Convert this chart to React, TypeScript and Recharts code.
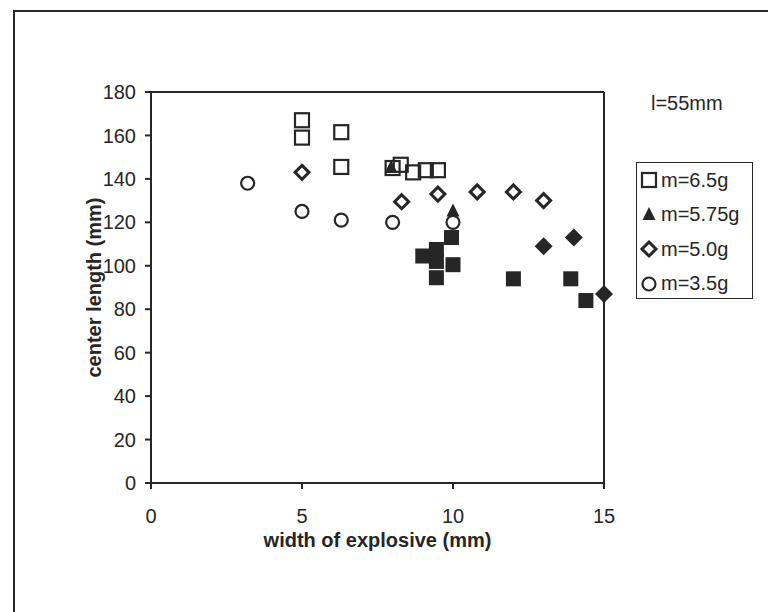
import { ScatterChart, Scatter, XAxis, YAxis, ReferenceLine, Label } from "recharts";

const xTicks = [0, 5, 10, 15];
const yTicks = [0, 20, 40, 60, 80, 100, 120, 140, 160, 180];

// m=6.5g (open squares)
const sq65X = [5, 5, 6.3, 6.3, 8.0, 8.27, 8.68, 9.1, 9.5];
const sq65Y = [167, 159, 161.5, 145.5, 145, 146.5, 143, 144, 144];
// m=5.75g (filled triangles)
const tri575X = [7.95, 10.0];
const tri575Y = [145, 125];
// m=5.0g (open diamonds)
const dia50X = [5, 8.3, 9.5, 10.8, 12.0, 13.0];
const dia50Y = [143, 129.5, 133, 134, 134, 130];
// m=3.5g (open circles)
const cir35X = [3.2, 5, 6.3, 8.0, 10.0];
const cir35Y = [138, 125, 121, 120, 120];
// extra series, not in legend
const fillSqX = [9.0, 9.45, 9.45, 9.95, 10.0, 9.45, 12.0, 13.9, 14.4];
const fillSqY = [104.5, 107.5, 102, 113, 100.5, 94.5, 94, 94, 84];
const fillDiaX = [13.0, 14.0, 15.0];
const fillDiaY = [109, 113, 87];

const legendNames = ["m=6.5g", "m=5.75g", "m=5.0g", "m=3.5g"];
const legendKinds = ["sq", "tri", "dia", "cir"];

const ink = "#262626";
const font = "'Liberation Sans', Arial, sans-serif";
const fs = 20;

const pts = (xs: number[], ys: number[]) => xs.map((x, i) => ({ x, y: ys[i] }));

const Marker = ({ kind, cx, cy }: { kind: string; cx: number; cy: number }) => {
  switch (kind) {
    case "sq":
      return <rect x={cx - 7} y={cy - 7} width={14} height={14} fill="none" stroke={ink} strokeWidth={2.2} />;
    case "fsq":
      return <rect x={cx - 7.5} y={cy - 7.5} width={15} height={15} fill={ink} />;
    case "tri":
      return <polygon points={`${cx},${cy - 8} ${cx + 6.5},${cy + 5} ${cx - 6.5},${cy + 5}`} fill={ink} />;
    case "dia":
      return (
        <polygon
          points={`${cx},${cy - 7} ${cx + 7},${cy} ${cx},${cy + 7} ${cx - 7},${cy}`}
          fill="#fff"
          stroke={ink}
          strokeWidth={3}
        />
      );
    case "fdia":
      return <polygon points={`${cx},${cy - 9} ${cx + 9},${cy} ${cx},${cy + 9} ${cx - 9},${cy}`} fill={ink} />;
    default:
      return <circle cx={cx} cy={cy} r={6.5} fill="#fff" stroke={ink} strokeWidth={2.2} />;
  }
};

const shapeOf = (kind: string) => (props: any) => <Marker kind={kind} cx={props.cx} cy={props.cy} />;

const LegendBox = () => (
  <div
    style={{
      position: "absolute",
      left: 636,
      top: 162,
      width: 117,
      height: 137,
      border: `1.5px solid ${ink}`,
      fontFamily: font,
      fontSize: fs,
      color: ink,
      boxSizing: "border-box",
    }}
  >
    {legendNames.map((name, i) => (
      <div key={name} style={{ display: "flex", alignItems: "center", height: 34.5 }}>
        <svg width={20} height={20} style={{ marginLeft: 2 }}>
          <Marker kind={legendKinds[i]} cx={10} cy={10} />
        </svg>
        <span style={{ marginLeft: 2 }}>{name}</span>
      </div>
    ))}
  </div>
);

export default function App() {
  return (
    <div
      style={{
        position: "fixed",
        left: 0,
        top: 0,
        width: 768,
        height: 612,
        overflow: "hidden",
        background: "#fff",
        fontFamily: font,
      }}
    >
      <div
        style={{
          position: "absolute",
          left: 13,
          top: 10,
          width: 800,
          height: 700,
          border: `2px solid ${ink}`,
        }}
      />
      <div style={{ position: "absolute", left: 0, top: 0 }}>
        <ScatterChart width={768} height={612} margin={{ top: 92, right: 164, bottom: 89, left: 0 }}>
          <XAxis
            type="number"
            dataKey="x"
            domain={[0, 15]}
            ticks={xTicks}
            stroke={ink}
            strokeWidth={2}
            tickSize={6}
            tickMargin={20}
            height={40}
            tick={{ fill: ink, fontSize: fs, fontFamily: font }}
          >
            <Label
              value="width of explosive (mm)"
              position="bottom"
              offset={10}
              style={{ fill: ink, fontSize: fs, fontWeight: "bold", fontFamily: font }}
            />
          </XAxis>
          <YAxis
            type="number"
            dataKey="y"
            domain={[0, 180]}
            ticks={yTicks}
            stroke={ink}
            strokeWidth={2}
            tickSize={6}
            tickMargin={9}
            width={151}
            tick={{ fill: ink, fontSize: fs, fontFamily: font }}
          >
            <Label
              content={(p: any) => {
                const vb = p.viewBox || { x: 0, y: 92, height: 391 };
                const cx = vb.x + 94;
                const cy = vb.y + vb.height / 2;
                return (
                  <text
                    x={cx}
                    y={cy}
                    transform={`rotate(-90 ${cx} ${cy})`}
                    textAnchor="middle"
                    dominantBaseline="central"
                    style={{ fill: ink, fontSize: fs, fontWeight: "bold", fontFamily: font }}
                  >
                    center length (mm)
                  </text>
                );
              }}
            />
          </YAxis>
          <ReferenceLine x={15} stroke={ink} strokeWidth={2} />
          <ReferenceLine y={180} stroke={ink} strokeWidth={2} />
          <Scatter name="filled squares" data={pts(fillSqX, fillSqY)} shape={shapeOf("fsq")} legendType="none" isAnimationActive={false} />
          <Scatter name="filled diamonds" data={pts(fillDiaX, fillDiaY)} shape={shapeOf("fdia")} legendType="none" isAnimationActive={false} />
          <Scatter name={legendNames[0]} data={pts(sq65X, sq65Y)} shape={shapeOf("sq")} isAnimationActive={false} />
          <Scatter name={legendNames[1]} data={pts(tri575X, tri575Y)} shape={shapeOf("tri")} isAnimationActive={false} />
          <Scatter name={legendNames[2]} data={pts(dia50X, dia50Y)} shape={shapeOf("dia")} isAnimationActive={false} />
          <Scatter name={legendNames[3]} data={pts(cir35X, cir35Y)} shape={shapeOf("cir")} isAnimationActive={false} />
        </ScatterChart>
      </div>
      <div style={{ position: "absolute", left: 651, top: 92, fontSize: fs, color: ink, fontFamily: font }}>l=55mm</div>
      <LegendBox />
    </div>
  );
}
